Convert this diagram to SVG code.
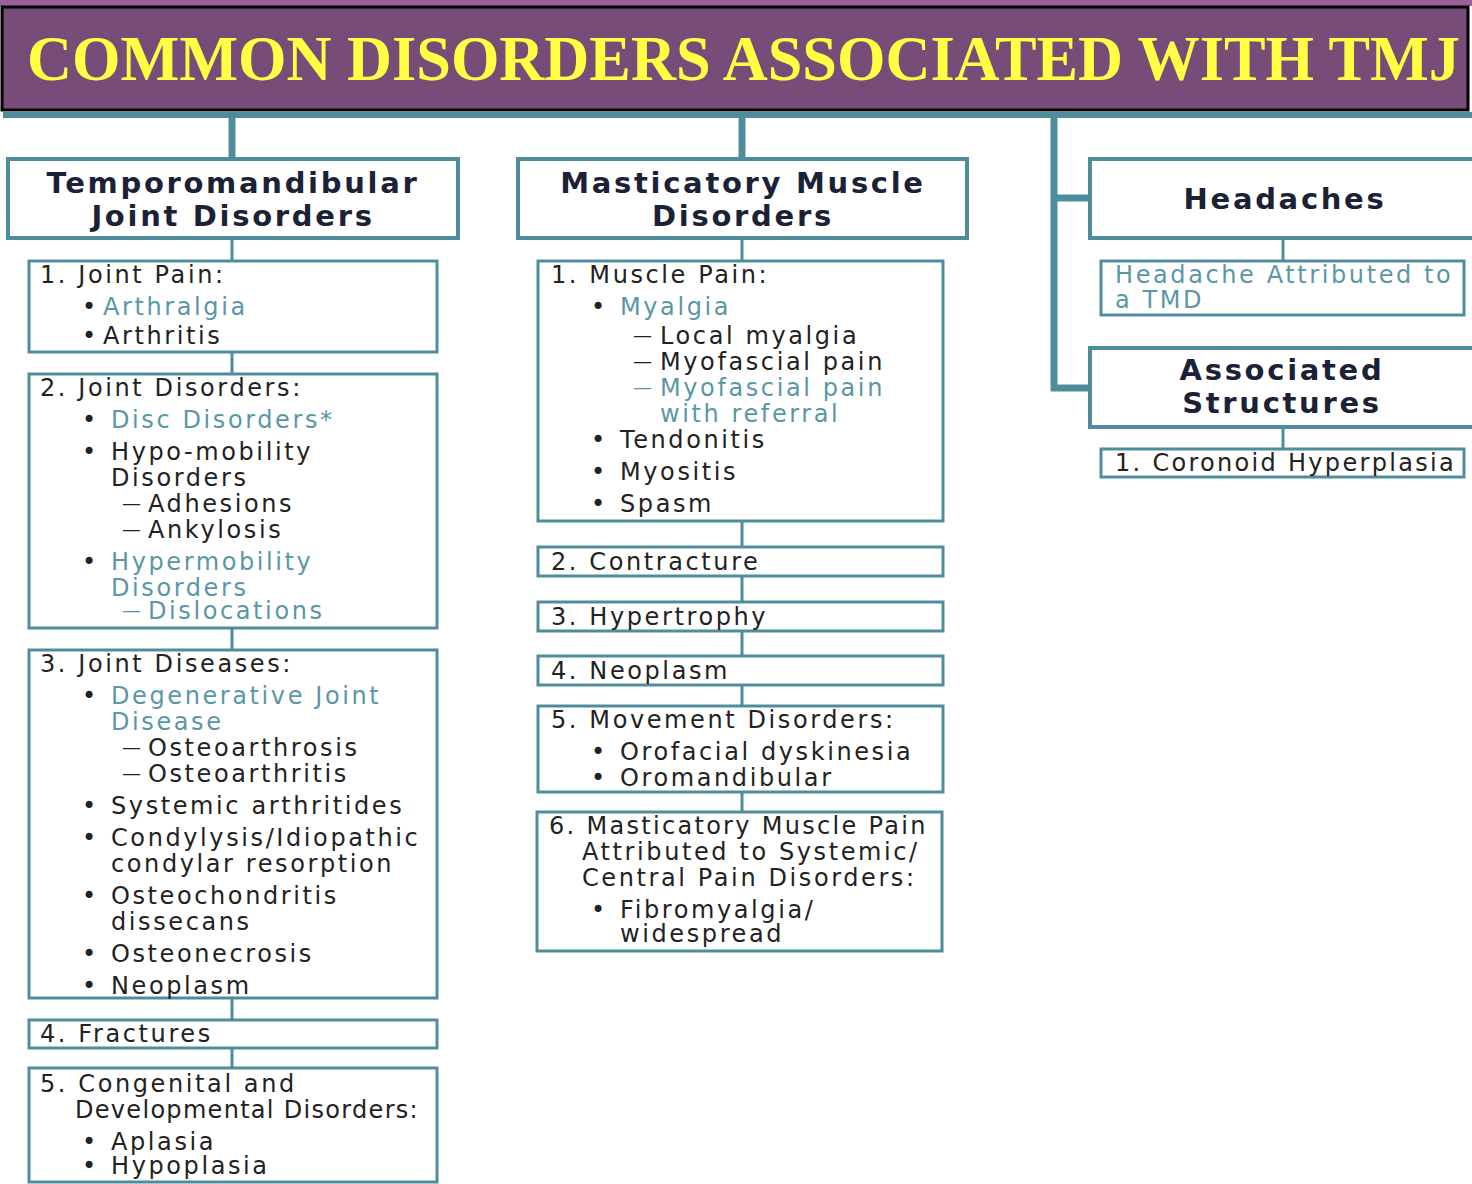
<svg xmlns="http://www.w3.org/2000/svg" width="1472" height="1184" viewBox="0 0 1472 1184">
<style>
.hdr{fill:#fff;stroke:#4f8c9c;stroke-width:4}
.box{fill:#fff;stroke:#4f8c9c;stroke-width:3}
.h{font-family:"DejaVu Sans",sans-serif;font-weight:bold;font-size:29px;letter-spacing:2.7px;fill:#1b2236;text-anchor:middle}
.t{font-family:"DejaVu Sans",sans-serif;font-size:24px;letter-spacing:2.6px;fill:#222}
.d{font-size:19px;letter-spacing:0}
.c{fill:#5a97a6}
.thick{stroke:#4f8c9c;stroke-width:7;fill:none}
.thin{stroke:#4f8c9c;stroke-width:3;fill:none}
</style>
<rect width="1472" height="1184" fill="#fff"/>
<g id="title">
<rect x="0" y="0" width="1472" height="6" fill="#9b5f9a"/>
<rect x="2" y="7" width="1466" height="103" fill="#774c78" stroke="#000" stroke-width="3"/>
<rect x="3" y="112" width="1469" height="6" fill="#4f8c9c"/>
<text x="27" y="80" font-family="Liberation Serif,serif" font-weight="bold" font-size="64" fill="#ffff44" textLength="1433" lengthAdjust="spacingAndGlyphs">COMMON DISORDERS ASSOCIATED WITH TMJ</text>
</g>
<g id="connectors">
<line class="thick" x1="232" y1="118" x2="232" y2="158"/>
<line class="thick" x1="742" y1="118" x2="742" y2="158"/>
<line class="thick" x1="1054" y1="118" x2="1054" y2="391"/>
<line class="thick" x1="1051" y1="198" x2="1090" y2="198"/>
<line class="thick" x1="1051" y1="388" x2="1090" y2="388"/>
<line class="thin" x1="232" y1="238" x2="232" y2="1068"/>
<line class="thin" x1="742" y1="238" x2="742" y2="811"/>
<line class="thin" x1="1283" y1="238" x2="1283" y2="260"/>
<line class="thin" x1="1283" y1="427" x2="1283" y2="449"/>
</g>
<g id="tmj-header">
<rect class="hdr" x="8" y="159" width="450" height="79"/>
<text class="h" x="233" y="193">Temporomandibular</text>
<text class="h" x="233" y="226">Joint Disorders</text>
</g>
<g id="mm-header">
<rect class="hdr" x="518" y="159" width="449" height="79"/>
<text class="h" x="743" y="193">Masticatory Muscle</text>
<text class="h" x="743" y="226">Disorders</text>
</g>
<g id="headaches">
<rect class="hdr" x="1090" y="159" width="386" height="79"/>
<text class="h" x="1285" y="209">Headaches</text>
</g>
<g id="headache-tmd">
<rect class="box" x="1101" y="261" width="363" height="54"/>
<text class="t c" x="1115" y="283">Headache Attributed to</text>
<text class="t c" x="1115" y="308">a TMD</text>
</g>
<g id="associated">
<rect class="hdr" x="1090" y="348" width="386" height="79"/>
<text class="h" x="1282" y="380">Associated</text>
<text class="h" x="1282" y="413">Structures</text>
</g>
<g id="coronoid">
<rect class="box" x="1101" y="449" width="363" height="28"/>
<text class="t" x="1115" y="471" style="letter-spacing:2.3px">1. Coronoid Hyperplasia</text>
</g>
<g id="joint-pain">
<rect class="box" x="29" y="261" width="408" height="91"/>
<text class="t" x="40" y="283">1. Joint Pain:</text>
<text class="t" x="82" y="315">•</text><text class="t c" x="103" y="315">Arthralgia</text>
<text class="t" x="82" y="344">•</text><text class="t" x="103" y="344">Arthritis</text>
</g>
<g id="joint-disorders">
<rect class="box" x="29" y="374" width="408" height="254"/>
<text class="t" x="40" y="396">2. Joint Disorders:</text>
<text class="t" x="82" y="428">•</text><text class="t c" x="111" y="428">Disc Disorders*</text>
<text class="t" x="82" y="460">•</text><text class="t" x="111" y="460">Hypo-mobility</text>
<text class="t" x="111" y="486">Disorders</text>
<text class="t d" x="122" y="510">—</text><text class="t" x="148" y="512">Adhesions</text>
<text class="t d" x="122" y="536">—</text><text class="t" x="148" y="538">Ankylosis</text>
<text class="t" x="82" y="570">•</text><text class="t c" x="111" y="570">Hypermobility</text>
<text class="t c" x="111" y="596">Disorders</text>
<text class="t c d" x="122" y="617">—</text><text class="t c" x="148" y="619">Dislocations</text>
</g>
<g id="joint-diseases">
<rect class="box" x="29" y="650" width="408" height="348"/>
<text class="t" x="40" y="672">3. Joint Diseases:</text>
<text class="t" x="82" y="704">•</text><text class="t c" x="111" y="704">Degenerative Joint</text>
<text class="t c" x="111" y="730">Disease</text>
<text class="t d" x="122" y="754">—</text><text class="t" x="148" y="756">Osteoarthrosis</text>
<text class="t d" x="122" y="780">—</text><text class="t" x="148" y="782">Osteoarthritis</text>
<text class="t" x="82" y="814">•</text><text class="t" x="111" y="814">Systemic arthritides</text>
<text class="t" x="82" y="846">•</text><text class="t" x="111" y="846">Condylysis/Idiopathic</text>
<text class="t" x="111" y="872">condylar resorption</text>
<text class="t" x="82" y="904">•</text><text class="t" x="111" y="904">Osteochondritis</text>
<text class="t" x="111" y="930">dissecans</text>
<text class="t" x="82" y="962">•</text><text class="t" x="111" y="962">Osteonecrosis</text>
<text class="t" x="82" y="994">•</text><text class="t" x="111" y="994">Neoplasm</text>
</g>
<g id="fractures">
<rect class="box" x="29" y="1020" width="408" height="28"/>
<text class="t" x="40" y="1042">4. Fractures</text>
</g>
<g id="congenital">
<rect class="box" x="29" y="1068" width="408" height="114"/>
<text class="t" x="40" y="1092">5. Congenital and</text>
<text class="t" x="75" y="1118" style="letter-spacing:1.3px">Developmental Disorders:</text>
<text class="t" x="82" y="1150">•</text><text class="t" x="111" y="1150">Aplasia</text>
<text class="t" x="82" y="1174">•</text><text class="t" x="111" y="1174">Hypoplasia</text>
</g>
<g id="muscle-pain">
<rect class="box" x="538" y="261" width="405" height="260"/>
<text class="t" x="551" y="283">1. Muscle Pain:</text>
<text class="t" x="591" y="315">•</text><text class="t c" x="620" y="315">Myalgia</text>
<text class="t d" x="633" y="342">—</text><text class="t" x="660" y="344">Local myalgia</text>
<text class="t d" x="633" y="368">—</text><text class="t" x="660" y="370">Myofascial pain</text>
<text class="t c d" x="633" y="394">—</text><text class="t c" x="660" y="396">Myofascial pain</text>
<text class="t c" x="660" y="422">with referral</text>
<text class="t" x="591" y="448">•</text><text class="t" x="620" y="448">Tendonitis</text>
<text class="t" x="591" y="480">•</text><text class="t" x="620" y="480">Myositis</text>
<text class="t" x="591" y="512">•</text><text class="t" x="620" y="512">Spasm</text>
</g>
<g id="contracture">
<rect class="box" x="538" y="547" width="405" height="29"/>
<text class="t" x="551" y="570">2. Contracture</text>
</g>
<g id="hypertrophy">
<rect class="box" x="538" y="602" width="405" height="29"/>
<text class="t" x="551" y="625">3. Hypertrophy</text>
</g>
<g id="neoplasm">
<rect class="box" x="538" y="656" width="405" height="29"/>
<text class="t" x="551" y="679">4. Neoplasm</text>
</g>
<g id="movement">
<rect class="box" x="538" y="706" width="405" height="86"/>
<text class="t" x="551" y="728">5. Movement Disorders:</text>
<text class="t" x="591" y="760">•</text><text class="t" x="620" y="760">Orofacial dyskinesia</text>
<text class="t" x="591" y="786">•</text><text class="t" x="620" y="786">Oromandibular</text>
</g>
<g id="systemic">
<rect class="box" x="537" y="812" width="405" height="139"/>
<text class="t" x="549" y="834" style="letter-spacing:2.3px">6. Masticatory Muscle Pain</text>
<text class="t" x="582" y="860">Attributed to Systemic/</text>
<text class="t" x="582" y="886">Central Pain Disorders:</text>
<text class="t" x="591" y="918">•</text><text class="t" x="620" y="918">Fibromyalgia/</text>
<text class="t" x="620" y="942">widespread</text>
</g>
</svg>
